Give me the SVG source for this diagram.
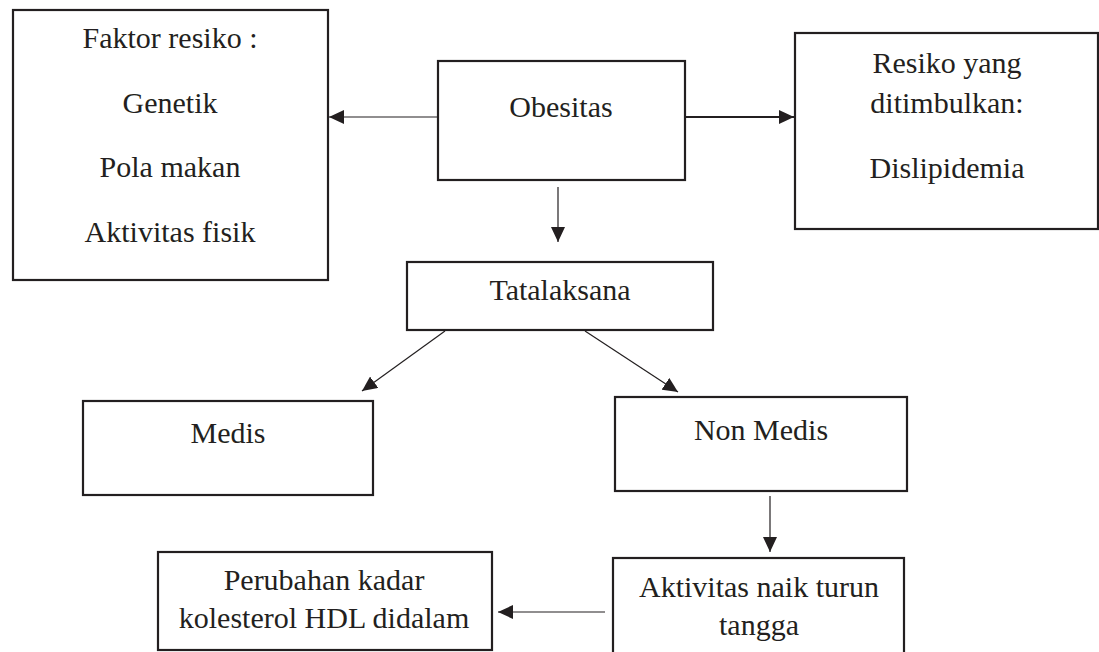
<svg xmlns="http://www.w3.org/2000/svg" width="1099" height="652" viewBox="0 0 1099 652">
<style>
.box{fill:#fff;stroke:#231f20;stroke-width:2.2}
.t{font-family:'Liberation Serif','Times New Roman','DejaVu Serif',serif;font-size:30px;fill:#231f20;text-anchor:middle}
.c{stroke:#231f20;stroke-width:1.2;fill:none}
.c2{stroke:#231f20;stroke-width:2.2;fill:none}
</style>
<defs>
<marker id="ah" markerUnits="userSpaceOnUse" markerWidth="16" markerHeight="14" refX="15" refY="7" orient="auto">
<path d="M0,0 L15,7 L0,14 Z" fill="#231f20"/>
</marker>
</defs>
<rect width="1099" height="652" fill="#fff"/>
<g font-family="Liberation Serif, Times New Roman, serif">
<g id="faktor">
<rect class="box" x="13" y="10" width="315" height="270"/>
<text class="t" x="170" y="48">Faktor resiko :</text>
<text class="t" x="170" y="113">Genetik</text>
<text class="t" x="170" y="177">Pola makan</text>
<text class="t" x="170" y="242">Aktivitas fisik</text>
</g>
<g id="obesitas">
<rect class="box" x="438" y="61" width="247" height="119"/>
<text class="t" x="561" y="117">Obesitas</text>
</g>
<g id="resiko">
<rect class="box" x="795" y="33" width="303" height="196"/>
<text class="t" x="947" y="73">Resiko yang</text>
<text class="t" x="947" y="113">ditimbulkan:</text>
<text class="t" x="947" y="178">Dislipidemia</text>
</g>
<g id="tatalaksana">
<rect class="box" x="407" y="262" width="306" height="68"/>
<text class="t" x="560" y="300">Tatalaksana</text>
</g>
<g id="medis">
<rect class="box" x="83" y="401" width="290" height="94"/>
<text class="t" x="228" y="443">Medis</text>
</g>
<g id="nonmedis">
<rect class="box" x="615" y="397" width="292" height="94"/>
<text class="t" x="761" y="440">Non Medis</text>
</g>
<g id="aktivitas">
<rect class="box" x="613" y="558" width="291" height="110"/>
<text class="t" x="759" y="597">Aktivitas naik turun</text>
<text class="t" x="759" y="635">tangga</text>
</g>
<g id="perubahan">
<rect class="box" x="158" y="552" width="334" height="98"/>
<text class="t" x="324" y="590">Perubahan kadar</text>
<text class="t" x="324" y="628">kolesterol HDL didalam</text>
</g>
</g>
<g id="connectors">
<line class="c" x1="438" y1="117" x2="329" y2="117" marker-end="url(#ah)"/>
<line class="c2" x1="685" y1="117" x2="794" y2="117" marker-end="url(#ah)"/>
<line class="c" x1="558" y1="187" x2="558" y2="242" marker-end="url(#ah)"/>
<line class="c" x1="445" y1="331" x2="362" y2="391" marker-end="url(#ah)"/>
<line class="c" x1="585" y1="331" x2="678" y2="392" marker-end="url(#ah)"/>
<line class="c" x1="770" y1="496" x2="770" y2="552" marker-end="url(#ah)"/>
<line class="c" x1="605" y1="612" x2="498" y2="612" marker-end="url(#ah)"/>
</g>
</svg>
